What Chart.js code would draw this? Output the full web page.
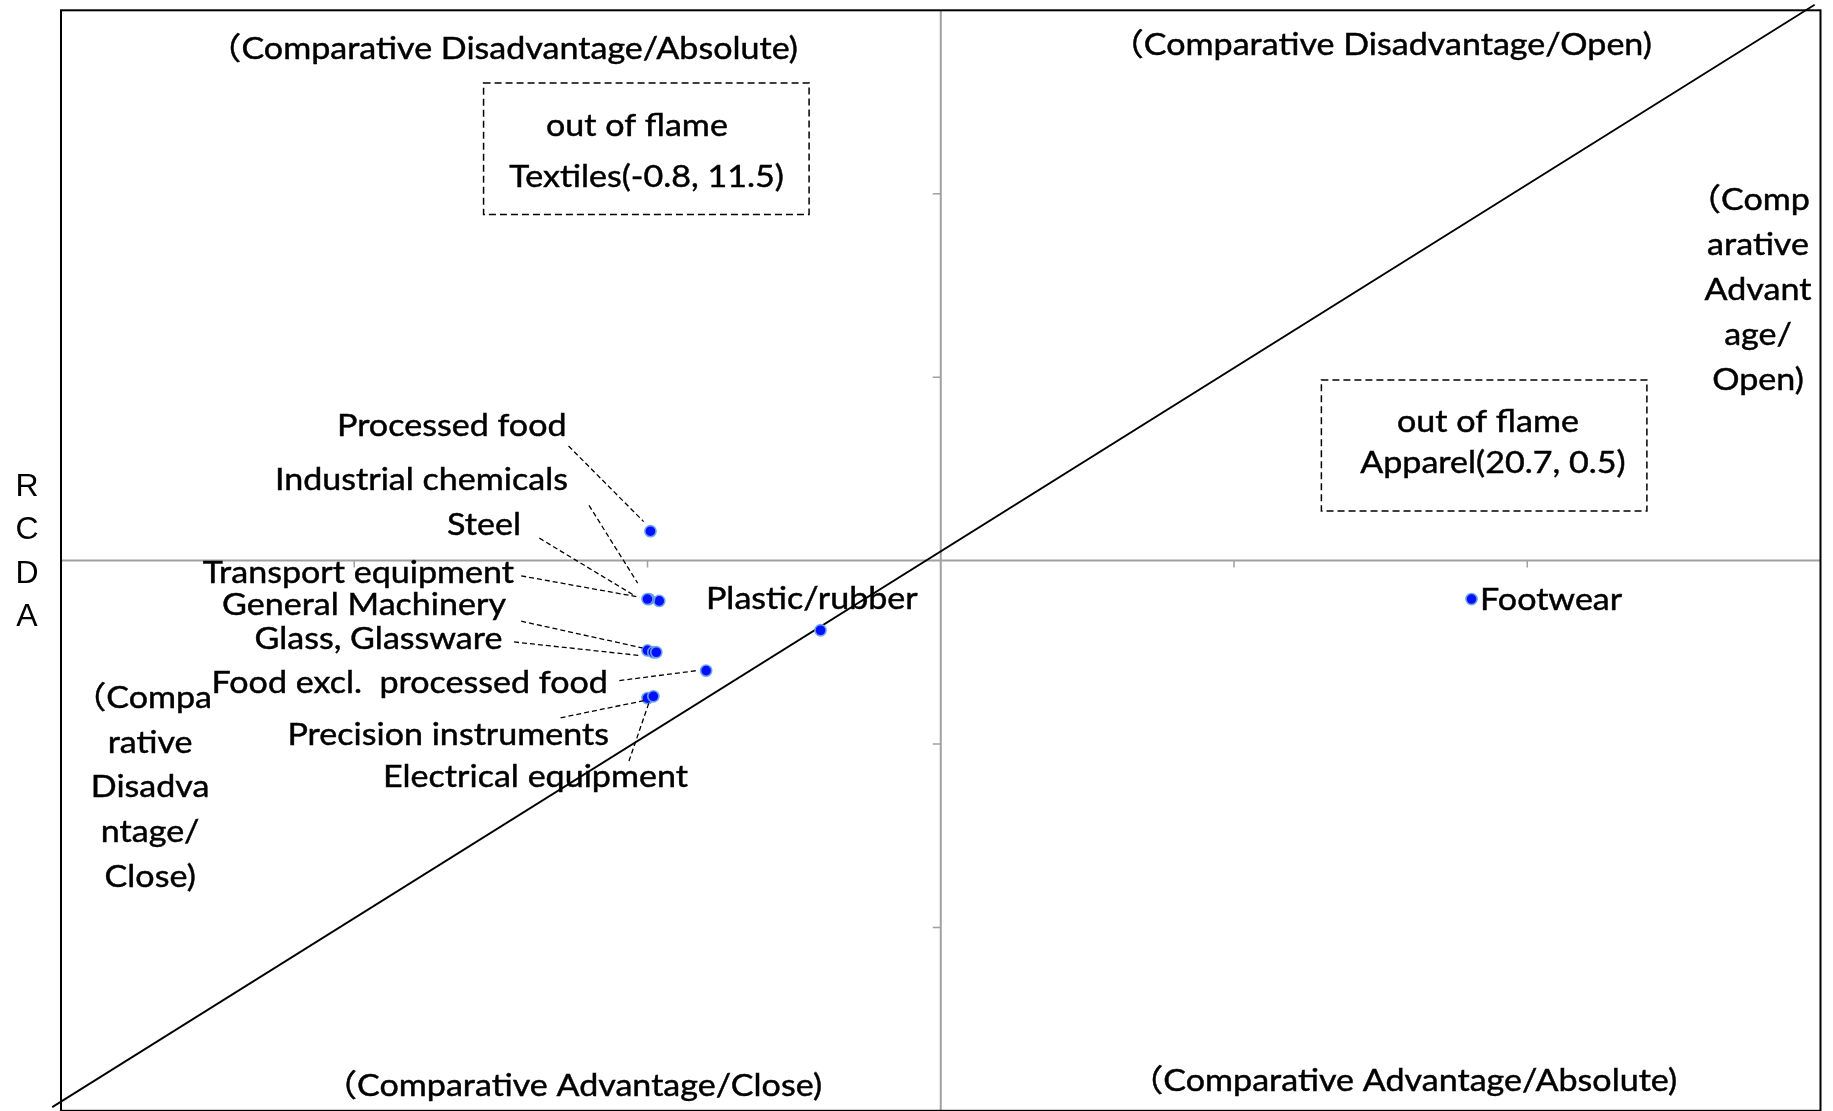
<!DOCTYPE html>
<html>
<head>
<meta charset="utf-8">
<script src="https://cdn.jsdelivr.net/npm/chart.js@4.4.0/dist/chart.umd.min.js"></script>
<style>
  html, body { margin: 0; padding: 0; background: #fff; overflow: hidden; }
  #wrap { width: 1833px; height: 1118px; }
</style>
</head>
<body>
<div id="wrap"><canvas id="c" width="1833" height="1118"></canvas></div>
<script>
// ---------------- DATA ----------------
const categories = [
  'Processed food', 'Industrial chemicals', 'Steel', 'Transport equipment',
  'General Machinery', '', 'Glass, Glassware', 'Food excl.  processed food',
  'Precision instruments', 'Electrical equipment', 'Plastic/rubber', 'Footwear'
];
const rcaValues  = [-0.99, -0.96, -0.995, -1.00, -1.00, -0.98, -0.97, -0.80, -1.00, -0.98, -0.41, 1.81];
const rcdaValues = [ 0.16, -0.22, -0.21,  -0.21, -0.49, -0.50, -0.50, -0.60, -0.75, -0.74, -0.38, -0.21];

const outOfFrameNames = ['Textiles', 'Apparel'];
const outOfFrameX = [-0.8, 20.7];
const outOfFrameY = [11.5, 0.5];

const diagonalX = [-3.03, 2.98];
const diagonalY = [-2.98, 3.03];

const tickValues = [-2, -1, 1, 2];
const axisMin = -3, axisMax = 3;

const quadrantTL = '（Comparative Disadvantage/Absolute)';
const quadrantTR = '（Comparative Disadvantage/Open)';
const quadrantBL = '（Comparative Advantage/Close)';
const quadrantBR = '（Comparative Advantage/Absolute)';
const rightLines = ['（Comp', 'arative', 'Advant', 'age/', 'Open)'];
const leftLines = ['（Compa', 'rative', 'Disadva', 'ntage/', 'Close)'];
const yAxisTitle = ['R', 'C', 'D', 'A'];
const outOfFrameCaption = 'out of flame';

// ---------------- LAYOUT / STYLE ----------------
// label offsets (pixels) relative to each point: text anchor + leader line
const labelLayout = {
  'Processed food':            { dx: -83.9, dy: -106.9, align: 'right', lead: [-81.9, -85.2, -6.8, -9.6] },
  'Industrial chemicals':      { dx: -91.2, dy: -122.8, align: 'right', lead: [-70.2, -95.5, -21.6, -17.8] },
  'Steel':                     { dx: -128,  dy: -76.2,  align: 'right', lead: [-109.6, -60.9, -15.7, -4.2] },
  'Transport equipment':       { dx: -133.5, dy: -28.4, align: 'right', lead: [-126.3, -23.2, -8.1, -1.9] },
  'General Machinery':         { dx: -141.5, dy: -47.5, align: 'right', lead: [-126.3, -29.2, -5.1, -2.5] },
  'Glass, Glassware':          { dx: -153.8, dy: -15.3, align: 'right', lead: [-142.3, -10.3, -15.1, 3.4] },
  'Food excl.  processed food':{ dx: -98.2, dy: 10.3,   align: 'right', lead: [-86.8, 10, -9.2, 0] },
  'Precision instruments':     { dx: -38.5, dy: 34.7,   align: 'right', lead: [-86.9, 19.7, -3, 2.4] },
  'Electrical equipment':      { dx: 34.6,  dy: 78.5,   align: 'right', lead: [-24.4, 64.8, -4.1, 5.5] },
  'Plastic/rubber':            { dx: -114.5, dy: -33.2, align: 'left' },
  'Footwear':                  { dx: 8.5,   dy: -0.9,   align: 'left' }
};
// annotation anchors in data units
const quadAnchors = [
  { text: quadrantTL, x: -0.487, y: 2.80,  align: 'right' },
  { text: quadrantTR, x: 2.425,  y: 2.82,  align: 'right' },
  { text: quadrantBL, x: -0.405, y: -2.852, align: 'right' },
  { text: quadrantBR, x: 2.511,  y: -2.826, align: 'right' }
];
const boxes = [
  { x1: -1.559, x2: -0.449, y1: 2.603, y2: 1.887, capX: -1.036, capY: 2.382, valX: -1.003, valY: 2.099 },
  { x1: 1.298,  x2: 2.408,  y1: 0.985, y2: 0.270, capX: 1.866,  capY: 0.764, valX: 1.883,  valY: 0.540 }
];

const BASE_FAMILY = 'Lato, "Noto Sans CJK JP", sans-serif';
const CAP_HEIGHT = 22.5;
const TEXT_SHIFT = 2;
const REF_TEXT = 'Processed food', REF_WIDTH = 229.5;

function setupFont() {
  const cv = document.createElement('canvas');
  const cx = cv.getContext('2d');
  cx.font = '100px ' + BASE_FAMILY;
  const capRatio = cx.measureText('H').actualBoundingBoxAscent / 100 || 0.72;
  const size = CAP_HEIGHT / capRatio;
  cx.font = size + 'px ' + BASE_FAMILY;
  const sx = REF_WIDTH / cx.measureText(REF_TEXT).width;
  return { font: size.toFixed(2) + 'px ' + BASE_FAMILY, sx };
}
const TXT = setupFont();

function drawText(ctx, text, x, y, align, font, sx, heavy) {
  ctx.save();
  ctx.font = font || TXT.font;
  const s = sx || TXT.sx;
  ctx.textBaseline = 'middle';
  ctx.textAlign = 'left';
  const w = ctx.measureText(text).width * s;
  const left = align === 'right' ? x - w : align === 'center' ? x - w / 2 : x;
  ctx.translate(left, y + TEXT_SHIFT);
  ctx.scale(s, 1);
  ctx.fillStyle = '#000';
  ctx.fillText(text, 0, 0);
  if (heavy !== false) {
    ctx.strokeStyle = '#000';
    ctx.lineWidth = 0.45;
    ctx.strokeText(text, 0, 0);
  }
  ctx.restore();
}

const framePlugin = {
  id: 'frame',
  beforeDatasetsDraw(chart) {
    const { ctx, chartArea: a, scales: { x, y } } = chart;
    ctx.save();
    // zero axes
    ctx.strokeStyle = '#a0a0a0';
    ctx.lineWidth = 2;
    const x0 = x.getPixelForValue(0), y0 = y.getPixelForValue(0);
    ctx.beginPath();
    ctx.moveTo(a.left, y0); ctx.lineTo(a.right, y0);
    ctx.moveTo(x0, a.top); ctx.lineTo(x0, a.bottom);
    ctx.stroke();
    ctx.lineWidth = 1.5;
    ctx.beginPath();
    tickValues.forEach(v => {
      const px = x.getPixelForValue(v);
      ctx.moveTo(px, y0); ctx.lineTo(px, y0 + 7);
      const py = y.getPixelForValue(v);
      ctx.moveTo(x0, py); ctx.lineTo(x0 - 8, py);
    });
    ctx.stroke();
    // plot border
    ctx.strokeStyle = '#000';
    ctx.lineWidth = 2;
    ctx.strokeRect(a.left, a.top, a.right - a.left, a.bottom - a.top);
    ctx.restore();
  },
  afterDatasetsDraw(chart) {
    const { ctx, scales: { x, y } } = chart;
    const ds = chart.data.datasets[0].data;
    // leader lines
    ctx.save();
    ctx.strokeStyle = '#000';
    ctx.lineWidth = 1.3;
    ctx.setLineDash([5, 3]);
    categories.forEach((name, i) => {
      const L = labelLayout[name];
      if (!L || !L.lead) return;
      const px = x.getPixelForValue(ds[i].x), py = y.getPixelForValue(ds[i].y);
      ctx.beginPath();
      ctx.moveTo(px + L.lead[0], py + L.lead[1]);
      ctx.lineTo(px + L.lead[2], py + L.lead[3]);
      ctx.stroke();
    });
    ctx.restore();
    // point labels
    categories.forEach((name, i) => {
      const L = labelLayout[name];
      if (!L) return;
      const px = x.getPixelForValue(ds[i].x), py = y.getPixelForValue(ds[i].y);
      drawText(ctx, name, px + L.dx, py + L.dy, L.align);
    });
    // quadrant captions
    quadAnchors.forEach(q => drawText(ctx, q.text, x.getPixelForValue(q.x), y.getPixelForValue(q.y), q.align));
    // right side multi-line
    const rcx = x.getPixelForValue(2.787), rRight = x.getPixelForValue(2.964);
    let ry = y.getPixelForValue(1.974);
    rightLines.forEach((t, i) => {
      if (i === 0) drawText(ctx, t, rRight, ry, 'right');
      else drawText(ctx, t, rcx, ry, 'center');
      ry += 45;
    });
    // left side multi-line
    const lcx = x.getPixelForValue(-2.696), lRight = x.getPixelForValue(-2.485);
    let ly = y.getPixelForValue(-0.7375);
    leftLines.forEach((t, i) => {
      if (i === 0) drawText(ctx, t, lRight, ly, 'right');
      else drawText(ctx, t, lcx, ly, 'center');
      ly += 44.8;
    });
    // y axis title stacked letters
    let ty = y.getPixelForValue(0.411);
    const tx = x.getPixelForValue(-3.116);
    yAxisTitle.forEach(ch => {
      drawText(ctx, ch, tx, ty, 'center', '32px "Liberation Sans", Arial, sans-serif', 1, false);
      ty += 43.4;
    });
    // out-of-frame boxes
    boxes.forEach((b, i) => {
      const bx1 = x.getPixelForValue(b.x1), bx2 = x.getPixelForValue(b.x2);
      const by1 = y.getPixelForValue(b.y1), by2 = y.getPixelForValue(b.y2);
      ctx.save();
      ctx.strokeStyle = '#000';
      ctx.lineWidth = 1.5;
      ctx.setLineDash([7, 4]);
      ctx.strokeRect(bx1, by1, bx2 - bx1, by2 - by1);
      ctx.restore();
      drawText(ctx, outOfFrameCaption, x.getPixelForValue(b.capX), y.getPixelForValue(b.capY), 'center');
      const val = outOfFrameNames[i] + '(' + outOfFrameX[i].toFixed(1) + ', ' + outOfFrameY[i].toFixed(1) + ')';
      drawText(ctx, val, x.getPixelForValue(b.valX), y.getPixelForValue(b.valY), 'center');
    });
  }
};

const points = categories.map((c, i) => ({ x: rcaValues[i], y: rcdaValues[i] }));
const diagonal = diagonalX.map((v, i) => ({ x: v, y: diagonalY[i] }));

new Chart(document.getElementById('c'), {
  type: 'scatter',
  data: {
    datasets: [
      {
        label: 'Industries',
        data: points,
        pointRadius: 5.6,
        pointBackgroundColor: '#0010ff',
        pointBorderColor: 'rgba(110,165,230,0.95)',
        pointBorderWidth: 1.6,
        clip: false
      },
      {
        type: 'line',
        label: '45-degree line',
        data: diagonal,
        showLine: true,
        borderColor: '#000',
        borderWidth: 1.8,
        pointRadius: 0,
        fill: false,
        clip: false
      }
    ]
  },
  options: {
    responsive: false,
    animation: false,
    devicePixelRatio: 1,
    layout: { padding: { left: 61, right: 12.5, top: 10.3, bottom: 3.7 } },
    scales: {
      x: { type: 'linear', min: axisMin, max: axisMax, display: false },
      y: { type: 'linear', min: axisMin, max: axisMax, display: false }
    },
    plugins: { legend: { display: false }, tooltip: { enabled: false } }
  },
  plugins: [framePlugin]
});
</script>
</body>
</html>
